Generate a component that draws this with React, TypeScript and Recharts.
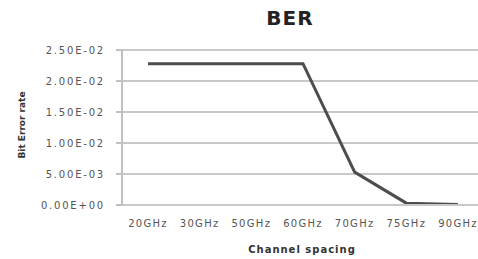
import React from 'react';
import { LineChart, Line, XAxis, YAxis, CartesianGrid } from 'recharts';

const categories = ['20GHz', '30GHz', '50GHz', '60GHz', '70GHz', '75GHz', '90GHz'];
const berValues = [0.0228, 0.0228, 0.0228, 0.0228, 0.0053, 0.0003, 0.0001];
const yTicks = [0, 0.005, 0.01, 0.015, 0.02, 0.025];
const yTickLabels = ['0.00E+00', '5.00E-03', '1.00E-02', '1.50E-02', '2.00E-02', '2.50E-02'];

const data = categories.map((c, i) => ({ name: c, ber: berValues[i] }));

const yTickStyle = { fontFamily: 'DejaVu Sans', fontSize: 10, fill: '#555', letterSpacing: 1.8 };
const xTickStyle = { fontFamily: 'DejaVu Sans', fontSize: 10, fill: '#555', letterSpacing: 1.3 };

export default function App() {
  return (
    <div style={{ position: 'absolute', left: 0, top: 0, width: 478, height: 259, overflow: 'hidden', background: '#fff' }}>
      <div
        style={{
          position: 'absolute', left: 250, top: 6, width: 80, textAlign: 'center',
          fontFamily: 'DejaVu Sans', fontWeight: 'bold', fontSize: 20, color: '#222', lineHeight: '24px', letterSpacing: 1,
        }}
      >
        BER
      </div>
      <div
        style={{
          position: 'absolute', left: 202, top: 244, width: 200, textAlign: 'center',
          fontFamily: 'DejaVu Sans', fontWeight: 'bold', fontSize: 10, color: '#333', lineHeight: '12px', letterSpacing: 1,
        }}
      >
        Channel spacing
      </div>
      <div
        style={{
          position: 'absolute', left: 22 - 50, top: 125 - 6, width: 100, height: 12, textAlign: 'center',
          fontFamily: 'DejaVu Sans', fontWeight: 'bold', fontSize: 9, color: '#333', lineHeight: '12px',
          transform: 'rotate(-90deg)', transformOrigin: '50% 50%',
        }}
      >
        Bit Error rate
      </div>
      <LineChart width={478} height={259} data={data} margin={{ top: 50, right: -6, bottom: 0, left: 0 }}>
        <CartesianGrid horizontal={true} vertical={false} stroke="#c8c8c8" strokeWidth={2} />
        <XAxis
          dataKey="name"
          height={54}
          tickLine={false}
          tickSize={0}
          tickMargin={15}
          padding={{ left: 26, right: 26 }}
          axisLine={{ stroke: '#c8c8c8', strokeWidth: 2 }}
          tick={xTickStyle}
          interval={0}
        />
        <YAxis
          width={122}
          domain={[0, 0.025]}
          ticks={yTicks}
          tickFormatter={(v: number) => yTickLabels[yTicks.indexOf(v)] ?? String(v)}
          tickSize={6}
          tickMargin={11}
          tickLine={{ stroke: '#c0c0c0', strokeWidth: 2 }}
          axisLine={{ stroke: '#c0c0c0', strokeWidth: 2 }}
          tick={yTickStyle}
        />
        <Line
          type="linear"
          dataKey="ber"
          stroke="#4d4d4d"
          strokeWidth={3}
          dot={false}
          isAnimationActive={false}
        />
      </LineChart>
    </div>
  );
}
